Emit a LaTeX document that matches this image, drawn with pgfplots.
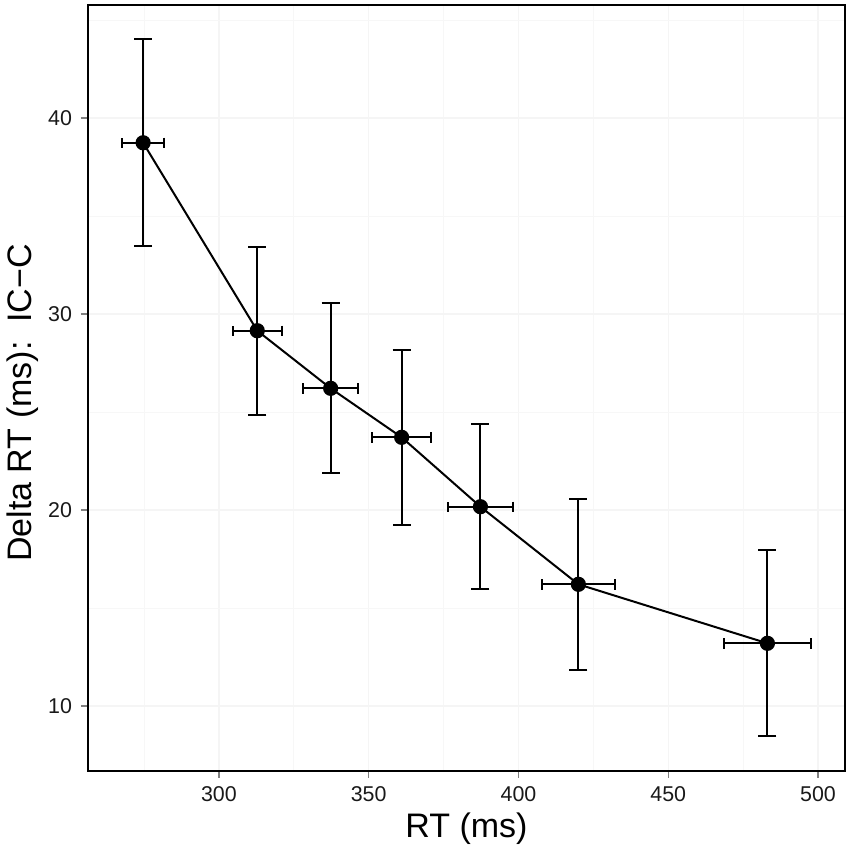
\documentclass[border=0pt]{standalone}
\usepackage{pgfplots}
\pgfplotsset{compat=1.18}
\usepackage{fontspec}
\setmainfont{Liberation Sans}
\begin{document}
\begin{tikzpicture}
\useasboundingbox (-44pt,-39.75pt) rectangle (381pt,385.25pt);
\begin{axis}[
  at={(0,0)}, anchor=south west,
  scale only axis,
  width=378.5pt, height=382.75pt,
  xmin=256.3, xmax=509,
  ymin=6.71, ymax=45.77,
  xtick={300,350,400,450,500},
  ytick={10,20,30,40},
  minor xtick={275,325,375,425,475},
  minor ytick={15,25,35,45},
  grid=both,
  major grid style={black!4, line width=0.6pt},
  minor grid style={black!3, line width=0.4pt},
  axis line style={black, line width=1pt},
  tick pos=left,
  tick align=outside,
  major tick length=3.5pt,
  minor tick length=0pt,
  tick style={black!50, line width=0.6pt},
  /pgf/number format/assume math mode=true,
  tick label style={font=\fontsize{10.7}{12}\selectfont, text=black!90},
  xticklabel style={yshift=-1pt},
  yticklabel style={xshift=-1pt},
  label style={font=\fontsize{17}{19}\selectfont},
  xlabel={RT (ms)},
  ylabel={Delta RT (ms):\ \ IC−C},
  xlabel style={at={(0.5,0)}, anchor=base, yshift=-33.5pt},
  ylabel style={at={(0,0.48)}, anchor=base, yshift=28pt},
  clip=false,
]
% vertical (y) error bars
\addplot[black, line width=1pt, mark=none, draw=none,
  error bars/.cd, y dir=both, y explicit, error mark=|,
  error bar style={black, line width=1pt},
  error mark options={black, line width=1pt, mark size=4.5pt}]
  coordinates {
  (274.7,38.74) +- (0,5.27)
  (312.8,29.15) +- (0,4.28)
  (337.3,26.21) +- (0,4.33)
  (361.0,23.71) +- (0,4.48)
  (387.3,20.17) +- (0,4.22)
  (420.0,16.21) +- (0,4.36)
  (483.1,13.20) +- (0,4.75)
  };
% horizontal (x) error bars
\addplot[black, line width=1pt, mark=none, draw=none,
  error bars/.cd, x dir=both, x explicit, error mark=|,
  error bar style={black, line width=1pt},
  error mark options={black, line width=1pt, mark size=2.6pt}]
  coordinates {
  (274.7,38.74) +- (7.1,0)
  (312.8,29.15) +- (8.2,0)
  (337.3,26.21) +- (9.15,0)
  (361.0,23.71) +- (9.9,0)
  (387.3,20.17) +- (10.85,0)
  (420.0,16.21) +- (12.25,0)
  (483.1,13.20) +- (14.65,0)
  };
% line and points
\addplot[black, line width=1pt, mark=*, mark size=3.3pt,
  mark options={fill=black, draw=black}]
  coordinates {
  (274.7,38.74)
  (312.8,29.15)
  (337.3,26.21)
  (361.0,23.71)
  (387.3,20.17)
  (420.0,16.21)
  (483.1,13.20)
  };
\end{axis}
\end{tikzpicture}
\end{document}
